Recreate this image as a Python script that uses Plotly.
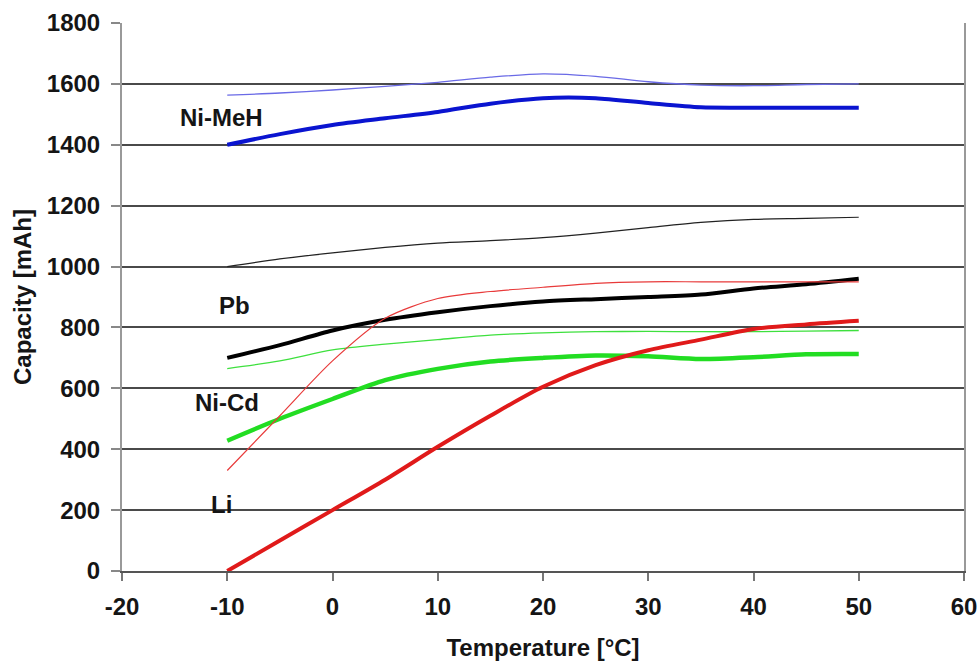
import plotly.graph_objects as go

temps = [-10, -5, 0, 5, 10, 15, 20, 25, 30, 35, 40, 45, 50]

nimeh_thin = [1563, 1570, 1580, 1592, 1605, 1622, 1633, 1625, 1607, 1596, 1594, 1598, 1600]
nimeh_thick = [1400, 1435, 1465, 1487, 1508, 1535, 1553, 1553, 1537, 1523, 1522, 1522, 1522]
pb_thin = [1000, 1025, 1045, 1063, 1077, 1085, 1095, 1110, 1128, 1145, 1155, 1158, 1162]
pb_thick = [700, 742, 790, 825, 850, 870, 885, 893, 900, 908, 928, 942, 960]
li_thin = [330, 510, 690, 830, 895, 918, 932, 945, 950, 950, 950, 950, 950]
li_thick = [0, 100, 200, 300, 408, 510, 605, 676, 725, 760, 795, 810, 822]
nicd_thin = [665, 690, 726, 745, 760, 775, 782, 786, 787, 786, 786, 788, 790]
nicd_thick = [428, 500, 565, 627, 664, 688, 700, 708, 705, 696, 702, 712, 713]

x_ticks = [-20, -10, 0, 10, 20, 30, 40, 50, 60]
x_ticktext = ["-20", "-10", "0", "10", "20", "30", "40", "50", "60"]

label_texts = ["Ni-MeH", "Pb", "Ni-Cd", "Li"]
label_x = [-10.5, -9.3, -10.0, -10.5]
label_y = [1488, 873, 555, 217]

FONT = "Arial, Liberation Sans, sans-serif"
FSIZE = 24
FCOLOR = "#151515"

series = [
    (nimeh_thin, "#6a6ae6", 1.3),
    (nimeh_thick, "#0a14d0", 4),
    (pb_thin, "#222222", 1.2),
    (pb_thick, "#000000", 4),
    (nicd_thin, "#3ee03e", 1.3),
    (nicd_thick, "#22dd22", 4.5),
    (li_thin, "#e83a3a", 1.2),
    (li_thick, "#e01a1a", 4),
]

fig = go.Figure()
for ys, color, w in series:
    fig.add_trace(go.Scatter(
        x=temps, y=ys, mode="lines",
        line=dict(color=color, width=w, shape="spline", smoothing=0.8),
        showlegend=False, hoverinfo="skip",
    ))

for t, lx, ly in zip(label_texts, label_x, label_y):
    fig.add_annotation(x=lx, y=ly, text=f"<b>{t}</b>", showarrow=False,
                       font=dict(family=FONT, size=FSIZE, color=FCOLOR),
                       xanchor="center", yanchor="middle")

tf = dict(family=FONT, size=FSIZE, color=FCOLOR, weight="bold")

fig.update_layout(
    width=980, height=665,
    margin=dict(l=122, r=16, t=23, b=94),
    paper_bgcolor="white", plot_bgcolor="white",
    font=dict(family=FONT, size=FSIZE, color=FCOLOR),
    xaxis=dict(
        range=[-20, 60], tickvals=x_ticks, ticktext=x_ticktext,
        showgrid=False, zeroline=False, automargin=False,
        showline=True, linecolor="#555555", linewidth=2,
        ticks="outside", ticklen=8, tickcolor="#777777", tickwidth=2,
        ticklabelstandoff=5,
        title=dict(text="Temperature [°C]", font=tf, standoff=20),
        tickfont=tf,
    ),
    yaxis=dict(
        range=[0, 1800], dtick=200, tick0=0,
        showgrid=True, gridcolor="#4a4a4a", gridwidth=2,
        zeroline=False, automargin=False,
        showline=True, linecolor="#999999", linewidth=2, mirror=True,
        ticks="outside", ticklen=9, tickcolor="#888888", tickwidth=2,
        ticklabelstandoff=6,
        title=dict(text="Capacity [mAh]", font=tf, standoff=8),
        tickfont=tf,
    ),
)

fig.write_html("out.html")
